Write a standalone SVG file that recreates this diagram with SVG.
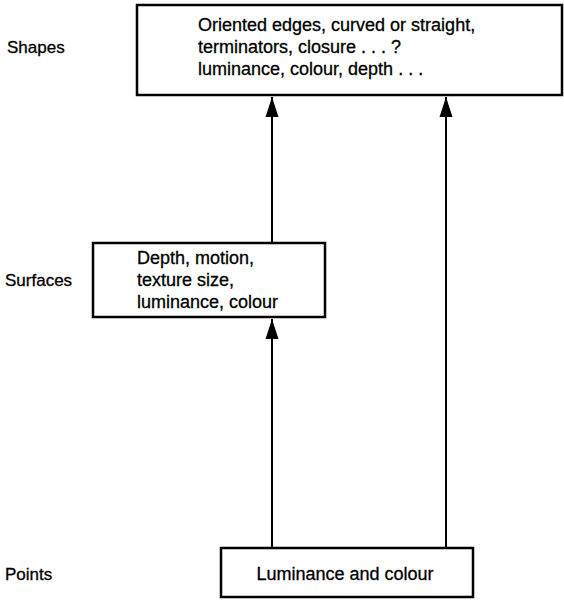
<svg xmlns="http://www.w3.org/2000/svg" width="564" height="600" viewBox="0 0 564 600">
<defs>
<marker id="arr" markerUnits="userSpaceOnUse" markerWidth="20" markerHeight="14" refX="20" refY="7" orient="auto" viewBox="0 0 20 14">
<path d="M0,0.5 L20,7 L0,13.5 Z" fill="#000"/>
</marker>
<style>
text{font-family:"Liberation Sans",Arial,sans-serif;fill:#000;font-size:17px;stroke:#000;stroke-width:0.3}
.bt{font-size:18px}
.box{fill:#fff;stroke:#000;stroke-width:2.5}
.ln{stroke:#000;stroke-width:2;fill:none}
</style>
</defs>
<rect width="564" height="600" fill="#fff"/>
<g id="labels">
<text x="7" y="53">Shapes</text>
<text x="5" y="286">Surfaces</text>
<text x="5" y="580">Points</text>
</g>
<g id="shapes">
<rect class="box" x="137" y="5" width="425" height="90"/>
<text class="bt" x="198" y="31">Oriented edges, curved or straight,</text>
<text class="bt" x="198" y="53">terminators, closure . . . ?</text>
<text class="bt" x="198" y="75">luminance, colour, depth . . .</text>
</g>
<g id="surfaces">
<rect class="box" x="93" y="243" width="232" height="74"/>
<text class="bt" x="137" y="264">Depth, motion,</text>
<text class="bt" x="137" y="286">texture size,</text>
<text class="bt" x="137" y="308">luminance, colour</text>
</g>
<g id="points">
<rect class="box" x="221" y="548" width="252" height="49"/>
<text class="bt" x="345" y="580" text-anchor="middle">Luminance and colour</text>
</g>
<g id="connectors">
<line class="ln" x1="272" y1="242" x2="272" y2="97" marker-end="url(#arr)"/>
<line class="ln" x1="446" y1="547" x2="446" y2="97" marker-end="url(#arr)"/>
<line class="ln" x1="272" y1="547" x2="272" y2="319" marker-end="url(#arr)"/>
</g>
</svg>
